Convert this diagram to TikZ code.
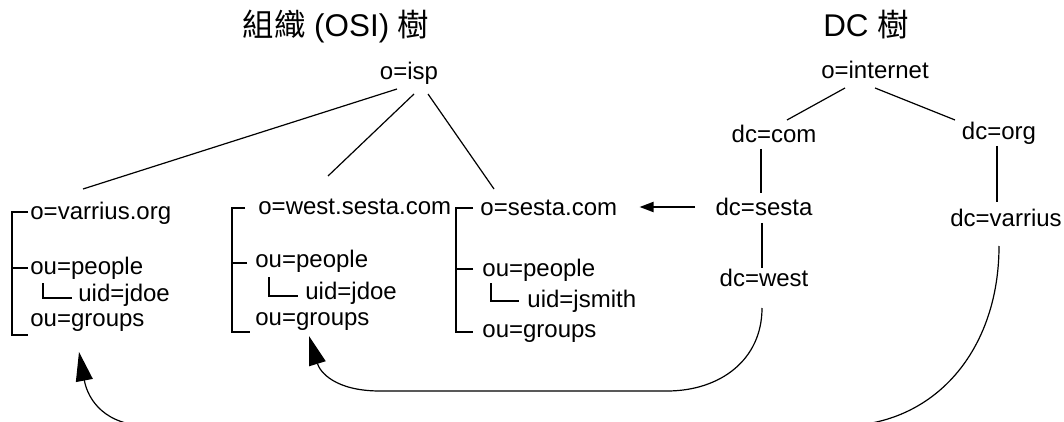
\documentclass[tikz,border=0pt]{standalone}
\usepackage{fontspec}
\setmainfont{Liberation Sans}
\newfontfamily\cjkfont{Noto Sans CJK TC}
\usetikzlibrary{arrows.meta}

\begin{document}
\begin{tikzpicture}[x=0.5pt,y=-0.5pt,
    entry/.style={anchor=west,inner sep=0pt,text height=8.6pt,text depth=0pt,font=\fontsize{12}{14}\selectfont},
    dcname/.style={entry,anchor=center},
    treetitle/.style={anchor=base,inner sep=0pt,font=\fontsize{15.7}{18}\selectfont},
    bracket/.style={line width=1pt},
    branch/.style={line width=0.6pt},
    link/.style={line width=0.6pt,-{Triangle[length=14.5pt,width=8.5pt]}}]
    \useasboundingbox (0,0) rectangle (1064,422);

    % Titles
    \node[treetitle] (osititle) at (336,37) {{\cjkfont 組織} (OSI) {\cjkfont 樹}};
    \node[treetitle] (dctitle) at (866,37) {DC {\cjkfont 樹}};

    % Organization (OSI) tree
    \node[dcname] (isp) at (409,71) {o=isp};
    \node[entry] (varrius) at (30,211) {o=varrius.org};
    \node[entry] (vpeople) at (30,266) {ou=people};
    \node[entry] (vjdoe) at (78,293) {uid=jdoe};
    \node[entry] (vgroups) at (30,318) {ou=groups};
    \node[entry] (west) at (258,206) {o=west.sesta.com};
    \node[entry] (wpeople) at (255,259) {ou=people};
    \node[entry] (wjdoe) at (305,291) {uid=jdoe};
    \node[entry] (wgroups) at (255,317) {ou=groups};
    \node[entry] (sesta) at (480,207) {o=sesta.com};
    \node[entry] (speople) at (482,268) {ou=people};
    \node[entry] (sjsmith) at (527,299) {uid=jsmith};
    \node[entry] (sgroups) at (482,329) {ou=groups};

    \draw[branch] ([shift={(-12,9)}]isp.south) -- ([shift={(53,-13)}]varrius.north west);
    \draw[branch] ([shift={(5,14)}]isp.south) -- ([shift={(70,-21)}]west.north west);
    \draw[branch] ([shift={(19,14)}]isp.south) -- ([shift={(14,-9)}]sesta.north west);

    % Brackets
    \draw[bracket] ([shift={(-2,1)}]varrius.west) -- ++(-16,0) |- ([shift={(-2,17)}]vgroups.west);
    \draw[bracket] ([shift={(-2,2)}]vpeople.west) -- ++(-16,0);
    \draw[bracket] ([shift={(13,8)}]vpeople.south west) |- ([shift={(-6,5)}]vjdoe.west);
    \draw[bracket] ([shift={(-13,2)}]west.west) -- ++(-13,0) |- ([shift={(-5,15)}]wgroups.west);
    \draw[bracket] ([shift={(-8,4)}]wpeople.west) -- ++(-15,0);
    \draw[bracket] ([shift={(14,9)}]wpeople.south west) |- ([shift={(-7,5)}]wjdoe.west);
    \draw[bracket] ([shift={(-7,1)}]sesta.west) -- ++(-17,0) |- ([shift={(-9,3)}]sgroups.west);
    \draw[bracket] ([shift={(-9,1)}]speople.west) -- ++(-17,0);
    \draw[bracket] ([shift={(9,6)}]speople.south west) |- ([shift={(-8,2)}]sjsmith.west);

    % DC tree
    \node[dcname] (internet) at (875,70) {o=internet};
    \node[dcname] (dccom) at (774,134) {dc=com};
    \node[dcname] (dcorg) at (999,131) {dc=org};
    \node[dcname] (dcsesta) at (764,207) {dc=sesta};
    \node[dcname] (dcwest) at (764,278) {dc=west};
    \node[dcname] (dcvarrius) at (1006,218) {dc=varrius};

    \draw[branch] ([shift={(-30,9)}]internet.south) -- ([shift={(13,-5)}]dccom.north);
    \draw[branch] ([shift={(0,9)}]internet.south) -- ([shift={(-44,-2)}]dcorg.north);
    \draw[bracket] ([shift={(-13,6)}]dccom.south) -- ([shift={(-3,-5)}]dcsesta.north);
    \draw[bracket] ([shift={(-2,7)}]dcsesta.south) -- ([shift={(-2,-1)}]dcwest.north);
    \draw[bracket] ([shift={(-2,6)}]dcorg.south) -- ([shift={(-9,-7)}]dcvarrius.north);

    % Links between the trees
    \draw[bracket,-{Triangle[length=7pt,width=5pt]}] ([xshift=-10pt]dcsesta.west) -- ([xshift=11pt]sesta.east);
    \draw[link] ([shift={(-2,21)}]dcwest.south) .. controls +(0,52) and +(53,0) .. (667,391)
        -- (380,391) .. controls +(-45,0) and +(11,36) .. ([shift={(54,10)}]wgroups.south west);
    \draw[link] ([shift={(-7,19)}]dcvarrius.south) .. controls +(0,104) and +(95,0) .. (840,426)
        -- (150,426) .. controls +(-45,0) and +(9,48) .. ([shift={(49,25)}]vgroups.south west);
\end{tikzpicture}
\end{document}
